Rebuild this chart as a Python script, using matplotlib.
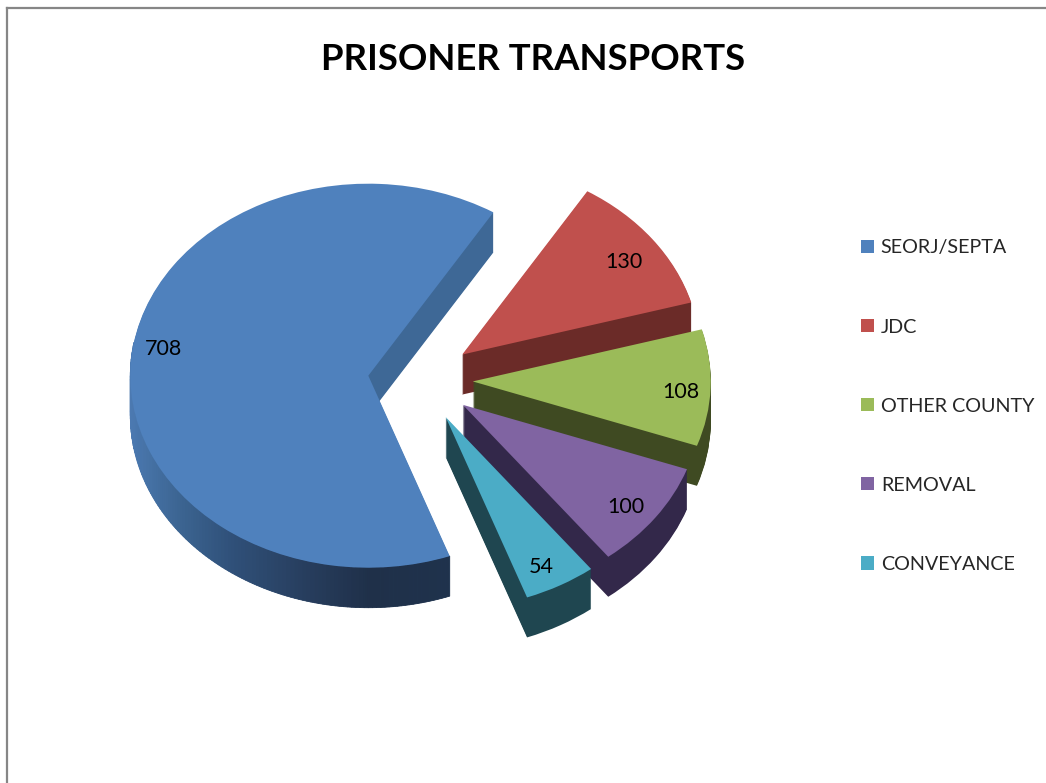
import numpy as np
import matplotlib
matplotlib.use('Agg')
import matplotlib.pyplot as plt
from matplotlib.colors import to_rgb
from matplotlib.lines import Line2D

plt.rcParams['font.family'] = ['Lato', 'DejaVu Sans']

title = 'PRISONER TRANSPORTS'
categories = ['SEORJ/SEPTA', 'JDC', 'OTHER COUNTY', 'REMOVAL', 'CONVEYANCE']
values = [708, 130, 108, 100, 54]

top_colors = ['#4F81BD', '#C0504D', '#9BBB59', '#8064A2', '#4BACC6']
wall_colors = ['#3E6896', '#6B2B28', '#3F4A22', '#33284A', '#1F4650']

W, H = 1046, 783
# pie centre and radii in pixels, the tilt squashes the circle to an ellipse
cx, cy, rx, ry = 420.4, 380, 238, 192
depth = 40

def fx(px):
    return px / W

def fy(py):
    return 1 - py / H

fig = plt.figure(figsize=(W / 100, H / 100), dpi=100)
ax = fig.add_axes([0, 0, 1, 1])

explode = [0.22] * len(values)

# side walls first: the same pie repeated downwards, one pixel at a time
for k in range(depth, 0, -1):
    walls, _ = ax.pie(values, explode=explode, colors=wall_colors, startangle=-70,
                      counterclock=False, center=(0, -k / ry), radius=1,
                      wedgeprops={'linewidth': 0})
    for i, w in enumerate(walls):
        w.set_zorder(10 + i * 10)

tops, _ = ax.pie(values, explode=explode, colors=top_colors, startangle=-70,
                 counterclock=False, center=(0, 0), radius=1,
                 wedgeprops={'linewidth': 0})
for i, w in enumerate(tops):
    w.set_zorder(15 + i * 10)

# the blue outer wall has a left to right shading
blue = tops[0]
grad_x = [130, 180, 230, 300, 370, 450]
grad_c = np.array([to_rgb(c) for c in ['#4C7AB2', '#3C6592', '#30517A', '#283F60', '#1F3049', '#1F324C']])
angles = np.arange(-190, blue.theta2, 1.0)
angles = np.append(angles, blue.theta2)
for a0, a1 in zip(angles[:-1], angles[1:]):
    t = np.radians([a0, a1])
    xs = blue.center[0] + np.cos(t)
    ys = blue.center[1] + np.sin(t)
    px = cx + rx * xs.mean()
    col = [np.interp(px, grad_x, grad_c[:, j]) for j in range(3)]
    ax.fill([xs[0], xs[1], xs[1], xs[0]],
            [ys[0], ys[1], ys[1] - depth / ry, ys[0] - depth / ry],
            color=col, linewidth=0.6, zorder=12)

ax.set_aspect('auto')
ax.set_xlim(-cx / rx, (W - cx) / rx)
ax.set_ylim((cy - H) / ry, cy / ry)

# data labels
label_px = [(163, 349), (624, 262), (681, 392), (626, 507), (541, 567)]
for v, (px, py) in zip(values, label_px):
    fig.text(fx(px), fy(py), str(v), ha='center', va='center', fontsize=15.5,
             color='black', zorder=100)

fig.text(fx(533), fy(59), title, ha='center', va='center', fontsize=26.3,
         fontweight='bold', color='black')

fig.legend(tops, categories, loc='upper left', bbox_to_anchor=(fx(853), fy(231.5)),
           frameon=False, fontsize=14.2, labelcolor='#262626',
           handlelength=0.66, handleheight=0.66, handletextpad=0.35,
           labelspacing=3.15, borderpad=0.4, borderaxespad=0)

# chart border, only top and left show in the crop
fig.add_artist(Line2D([fx(7), fx(7)], [fy(8), 0], color='#868686', lw=1.6))
fig.add_artist(Line2D([fx(7), 1], [fy(8), fy(8)], color='#868686', lw=1.6))

fig.savefig('out.png', dpi=100)
